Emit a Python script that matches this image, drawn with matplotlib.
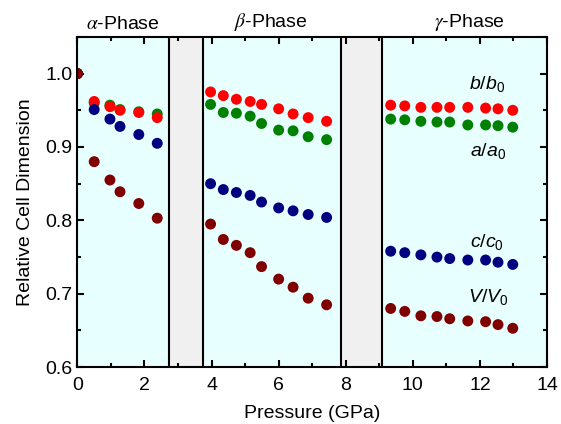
import matplotlib
matplotlib.use("Agg")
import matplotlib.pyplot as plt
from matplotlib.ticker import MultipleLocator

plt.rcParams['font.family'] = ['Liberation Sans', 'DejaVu Sans']
plt.rcParams['mathtext.fontset'] = 'custom'
plt.rcParams['mathtext.it'] = 'Liberation Sans:italic'
plt.rcParams['mathtext.rm'] = 'Liberation Sans'

# pressure (GPa) for each phase
p_alpha = [0.0, 0.50, 0.97, 1.27, 1.83, 2.38]
p_beta = [3.97, 4.35, 4.74, 5.15, 5.49, 6.00, 6.43, 6.88, 7.43]
p_gamma = [9.34, 9.76, 10.24, 10.72, 11.10, 11.64, 12.17, 12.54, 12.98]

# relative cell dimensions
b_alpha = [1.0, 0.962, 0.955, 0.950, 0.947, 0.940]
a_alpha = [1.0, 0.960, 0.957, 0.951, 0.948, 0.945]
c_alpha = [1.0, 0.951, 0.938, 0.928, 0.917, 0.905]
v_alpha = [1.0, 0.880, 0.855, 0.839, 0.823, 0.803]

b_beta = [0.975, 0.970, 0.965, 0.962, 0.958, 0.952, 0.945, 0.940, 0.935]
a_beta = [0.958, 0.947, 0.946, 0.942, 0.932, 0.923, 0.922, 0.914, 0.910]
c_beta = [0.850, 0.842, 0.838, 0.834, 0.825, 0.817, 0.813, 0.808, 0.804]
v_beta = [0.795, 0.774, 0.766, 0.756, 0.737, 0.720, 0.709, 0.694, 0.685]

b_gamma = [0.957, 0.956, 0.954, 0.954, 0.954, 0.954, 0.953, 0.952, 0.950]
a_gamma = [0.938, 0.937, 0.935, 0.934, 0.934, 0.930, 0.930, 0.929, 0.927]
c_gamma = [0.758, 0.756, 0.753, 0.750, 0.748, 0.746, 0.746, 0.743, 0.740]
v_gamma = [0.680, 0.676, 0.670, 0.669, 0.666, 0.663, 0.662, 0.658, 0.653]

# phase boundaries (gray transition zones)
gaps = [(2.72, 3.74), (7.85, 9.09)]

fig = plt.figure(figsize=(5.61, 4.24), dpi=100)
ax = fig.add_axes([0.138, 0.134, 0.837, 0.779])
ax.set_facecolor('#E8FFFF')

for lo, hi in gaps:
    ax.axvspan(lo, hi, color='#F0F0F0', zorder=1)
    ax.axvline(lo, color='black', lw=1.5, zorder=2)
    ax.axvline(hi, color='black', lw=1.5, zorder=2)

p_all = p_alpha + p_beta + p_gamma
series = [
    (b_alpha + b_beta + b_gamma, '#FF0000'),
    (a_alpha + a_beta + a_gamma, '#008000'),
    (c_alpha + c_beta + c_gamma, '#000080'),
    (v_alpha + v_beta + v_gamma, '#800000'),
]
# green sits behind red in the reference
order = [1, 0, 2, 3]
for i in order:
    vals, col = series[i]
    sc = ax.scatter(p_all, vals, s=62, color=col, edgecolors='none', zorder=3)
    sc.set_clip_path(ax.patch)

ax.set_xlim(0, 14)
ax.set_ylim(0.6, 1.05)
ax.xaxis.set_major_locator(MultipleLocator(2))
ax.xaxis.set_minor_locator(MultipleLocator(1))
ax.yaxis.set_major_locator(MultipleLocator(0.1))
ax.yaxis.set_minor_locator(MultipleLocator(0.05))
ax.tick_params(which='both', direction='in', top=True, right=True, labelsize=14, width=1.5)
ax.tick_params(which='major', length=5)
ax.tick_params(which='minor', length=3)
ax.tick_params(axis='x', pad=7)
ax.set_yticks([0.6, 0.7, 0.8, 0.9, 1.0])
ax.set_yticklabels(['0.6', '0.7', '0.8', '0.9', '1.0'])
for s in ax.spines.values():
    s.set_linewidth(1.5)
    s.set_zorder(4)

ax.set_xlabel('Pressure (GPa)', fontsize=14, labelpad=8)
ax.set_ylabel('Relative Cell Dimension', fontsize=14, labelpad=8)

ax.text(12.2, 0.986, r'$b/b_0$', fontsize=14, ha='center', va='center')
ax.text(12.25, 0.895, r'$a/a_0$', fontsize=14, ha='center', va='center')
ax.text(12.2, 0.770, r'$c/c_0$', fontsize=14, ha='center', va='center')
ax.text(12.25, 0.696, r'$V/V_0$', fontsize=14, ha='center', va='center')

ax.text(1.34, 1.055, r'$\alpha$-Phase', fontsize=14, ha='center', va='bottom', math_fontfamily='stix')
ax.text(5.77, 1.055, r'$\beta$-Phase', fontsize=14, ha='center', va='bottom', math_fontfamily='stix')
ax.text(11.7, 1.055, r'$\gamma$-Phase', fontsize=14, ha='center', va='bottom', math_fontfamily='stix')

fig.savefig('out.png', dpi=100)
